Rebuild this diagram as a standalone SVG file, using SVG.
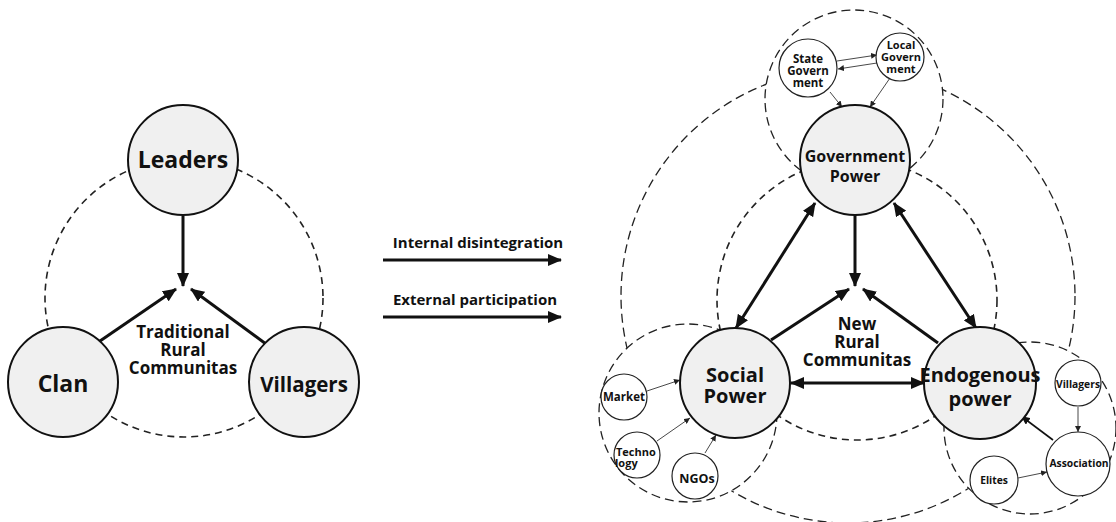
<svg xmlns="http://www.w3.org/2000/svg" width="1116" height="522" viewBox="0 0 1116 522">
<style>
text{font-family:"Open Sans","Liberation Sans",sans-serif;font-weight:700;fill:#111;text-anchor:middle}
.big{fill:#f0f0f0;stroke:#111;stroke-width:2}
.small{fill:#fff;stroke:#222;stroke-width:1.2}
.dash{fill:none;stroke:#222;stroke-width:1.6;stroke-dasharray:7 5}
.dasht{fill:none;stroke:#222;stroke-width:1.3;stroke-dasharray:9 5}
.grp{fill:#fff;stroke:#222;stroke-width:1.3;stroke-dasharray:9 5}
.thick{stroke:#111;stroke-width:3;fill:none}
.thin{stroke:#333;stroke-width:0.9;fill:none}
.mid{stroke:#111;stroke-width:1.6;fill:none}
</style>
<defs>
<marker id="ah" markerUnits="userSpaceOnUse" markerWidth="14" markerHeight="12" refX="13" refY="6" orient="auto-start-reverse"><path d="M0,0 L14,6 L0,12 Z" fill="#111"/></marker>
<marker id="as" markerUnits="userSpaceOnUse" markerWidth="6" markerHeight="6" refX="6" refY="3" orient="auto-start-reverse"><path d="M0,0 L6,3 L0,6 Z" fill="#222"/></marker>
<marker id="am" markerUnits="userSpaceOnUse" markerWidth="9" markerHeight="8" refX="9" refY="4" orient="auto-start-reverse"><path d="M0,0 L9,4 L0,8 Z" fill="#111"/></marker>
</defs>

<!-- background dashed circles -->
<g id="background">
<circle class="dash" cx="184" cy="298" r="139"/>
<circle class="dasht" cx="848" cy="296" r="227"/>
<circle class="dash" cx="857" cy="300" r="140"/>
</g>
<g id="cluster-government"><circle class="grp" cx="854" cy="99" r="89"/></g>
<g id="cluster-social"><circle class="grp" cx="688" cy="413" r="89"/></g>
<g id="cluster-endogenous"><circle class="grp" cx="1030" cy="428" r="86"/></g>

<g id="connectors">
<line class="thick" x1="183" y1="216" x2="183" y2="286" marker-end="url(#ah)"/>
<line class="thick" x1="100" y1="341" x2="176" y2="289" marker-end="url(#ah)"/>
<line class="thick" x1="266" y1="344" x2="191" y2="289" marker-end="url(#ah)"/>

<line class="thick" x1="383" y1="260" x2="561" y2="260" marker-end="url(#ah)"/>
<line class="thick" x1="383" y1="317" x2="561" y2="317" marker-end="url(#ah)"/>

<line class="thick" x1="855" y1="215" x2="855" y2="286" marker-end="url(#ah)"/>
<line class="thick" x1="771" y1="340" x2="849" y2="289" marker-end="url(#ah)"/>
<line class="thick" x1="938" y1="343" x2="863" y2="289" marker-end="url(#ah)"/>
<line class="thick" x1="815" y1="203" x2="736" y2="328" marker-start="url(#ah)" marker-end="url(#ah)"/>
<line class="thick" x1="894" y1="203" x2="976" y2="328" marker-start="url(#ah)" marker-end="url(#ah)"/>
<line class="thick" x1="791" y1="383" x2="924" y2="383" marker-start="url(#ah)" marker-end="url(#ah)"/>

<line class="thin" x1="837" y1="61" x2="877" y2="55" marker-end="url(#as)"/>
<line class="thin" x1="877" y1="63" x2="838" y2="69" marker-end="url(#as)"/>
<line class="thin" x1="830" y1="92" x2="842" y2="107" marker-end="url(#as)"/>
<line class="thin" x1="890" y1="78" x2="870" y2="107" marker-end="url(#as)"/>

<line class="thin" x1="647" y1="391" x2="680" y2="380" marker-end="url(#as)"/>
<line class="thin" x1="657" y1="441" x2="690" y2="418" marker-end="url(#as)"/>
<line class="thin" x1="705" y1="453" x2="716" y2="435" marker-end="url(#as)"/>

<line class="thin" x1="1078" y1="407" x2="1078" y2="432" marker-end="url(#as)"/>
<line class="thin" x1="1018" y1="478" x2="1047" y2="472" marker-end="url(#as)"/>
<line class="mid" x1="1053" y1="440" x2="1021" y2="416" marker-end="url(#am)"/>
</g>

<g id="labels">
<text x="183" y="338" font-size="17">Traditional</text>
<text x="183" y="356" font-size="17">Rural</text>
<text x="183" y="374" font-size="17">Communitas</text>
<text x="478" y="248" font-size="15">Internal disintegration</text>
<text x="475" y="305" font-size="15">External participation</text>
<text x="857" y="330" font-size="17">New</text>
<text x="857" y="348" font-size="17">Rural</text>
<text x="857" y="366" font-size="17">Communitas</text>
</g>

<g id="node-leaders"><circle class="big" cx="183" cy="160" r="55"/><text x="183" y="168" font-size="23">Leaders</text></g>
<g id="node-clan"><circle class="big" cx="63" cy="382" r="55"/><text x="63" y="392" font-size="23">Clan</text></g>
<g id="node-villagers"><circle class="big" cx="304" cy="382" r="55"/><text x="304" y="392" font-size="20.5">Villagers</text></g>

<g id="node-government"><circle class="big" cx="855" cy="160" r="55"/><text x="855" y="162" font-size="16">Government</text><text x="855" y="182" font-size="16">Power</text></g>
<g id="node-social"><circle class="big" cx="735" cy="383" r="55"/><text x="735" y="382" font-size="20">Social</text><text x="735" y="403" font-size="20">Power</text></g>
<g id="node-endogenous"><circle class="big" cx="980" cy="383" r="56"/><text x="980" y="382" font-size="20">Endogenous</text><text x="980" y="406" font-size="20">power</text></g>

<g id="node-state-government"><circle class="small" cx="808" cy="68" r="29"/><text x="808" y="63" font-size="11.5">State</text><text x="808" y="75" font-size="11.5">Govern</text><text x="808" y="87" font-size="11.5">ment</text></g>
<g id="node-local-government"><circle class="small" cx="900" cy="57" r="24"/><text x="901" y="49" font-size="11">Local</text><text x="901" y="61" font-size="11">Govern</text><text x="901" y="73" font-size="11">ment</text></g>

<g id="node-market"><circle class="small" cx="624" cy="397" r="23"/><text x="624" y="401" font-size="11.5">Market</text></g>
<g id="node-technology"><circle class="small" cx="637" cy="455" r="23"/><text x="616" y="456" font-size="11" style="text-anchor:start">Techno</text><text x="615" y="467" font-size="11" style="text-anchor:start">logy</text></g>
<g id="node-ngos"><circle class="small" cx="695" cy="476" r="23"/><text x="697" y="483" font-size="12.5">NGOs</text></g>

<g id="node-villagers-small"><circle class="small" cx="1078" cy="383" r="23"/><text x="1078" y="388" font-size="10.3">Villagers</text></g>
<g id="node-association"><circle class="small" cx="1078" cy="464" r="32"/><text x="1079" y="467" font-size="10.3">Association</text></g>
<g id="node-elites"><circle class="small" cx="994" cy="480" r="24"/><text x="994" y="484" font-size="10.3">Elites</text></g>
</svg>
